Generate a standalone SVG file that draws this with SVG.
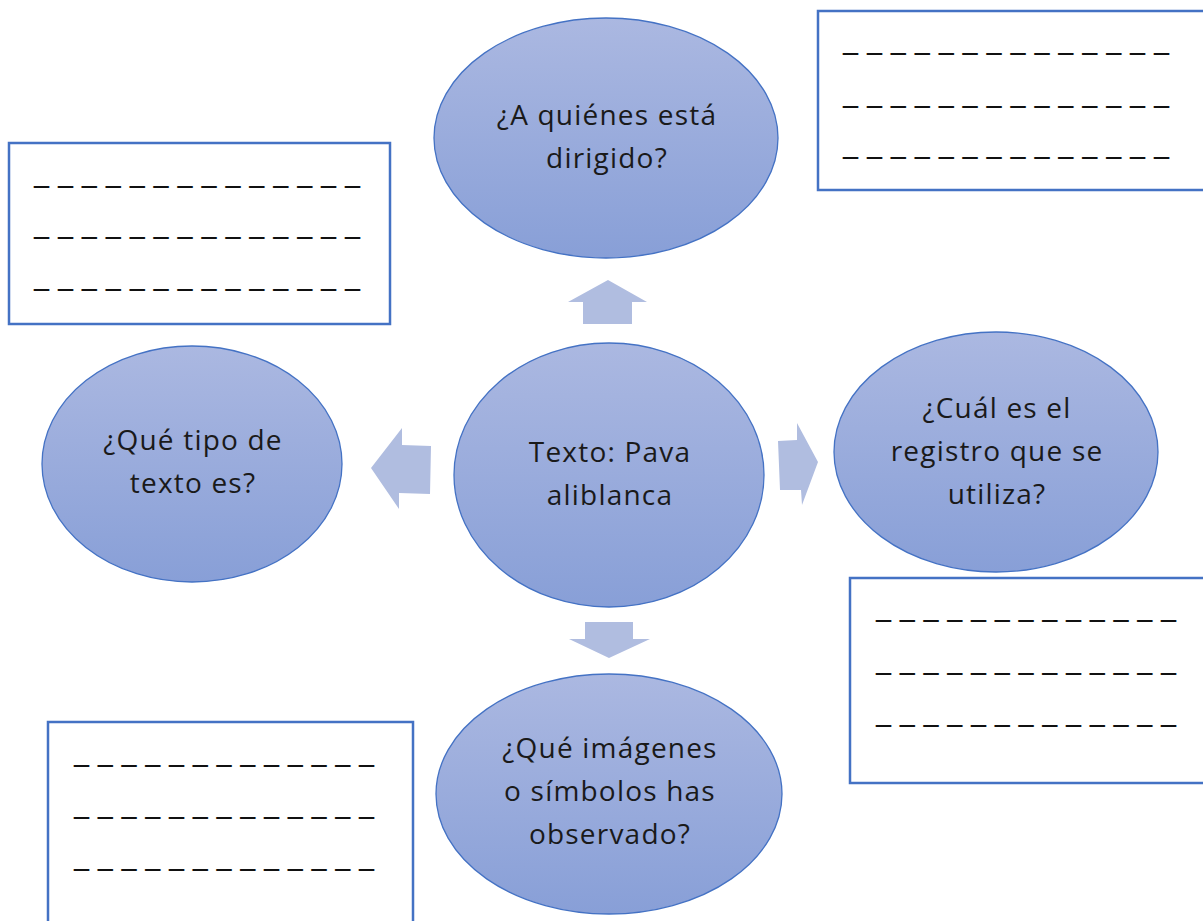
<svg xmlns="http://www.w3.org/2000/svg" width="1203" height="921" viewBox="0 0 1203 921">
<defs>
<linearGradient id="g" x1="0" y1="0" x2="0" y2="1">
<stop offset="0" stop-color="#abb8e1"/>
<stop offset="1" stop-color="#889fd7"/>
</linearGradient>
<style>
.node ellipse{fill:url(#g);stroke:#4472c4;stroke-width:1.3}
.node text{font-family:"Open Sans","Liberation Sans",sans-serif;font-size:28px;letter-spacing:1.2px;fill:#1a1a1a;text-anchor:middle}
.box rect{fill:#fff;stroke:#4472c4;stroke-width:2.5}
.box text{font-family:"DejaVu Sans","Liberation Sans",sans-serif;font-size:30px;fill:#111}
.arr{fill:#b0bde0}
</style>
</defs>
<rect width="1203" height="921" fill="#fff"/>
<g id="connectors">
<polygon class="arr" points="608,280 647,302 632,302 632,324 583,324 583,302 568,302"/>
<polygon class="arr" points="371,468 402,428 402,445 431,446 430,494 399,493 399,509"/>
<polygon class="arr" points="778,441 797,440 797,423 818,462 802,505 801,490 780,490"/>
<polygon class="arr" points="585,622 633,622 633,639 650,639 609,658 569,639 585,639"/>
</g>
<g id="node-top" class="node">
<ellipse cx="606" cy="138" rx="172" ry="120"/>
<text x="607" y="125">¿A quiénes está</text>
<text x="607" y="168">dirigido?</text>
</g>
<g id="node-left" class="node">
<ellipse cx="192" cy="464" rx="150" ry="118"/>
<text x="193" y="450">¿Qué tipo de</text>
<text x="193" y="493">texto es?</text>
</g>
<g id="node-center" class="node">
<ellipse cx="609" cy="475" rx="155" ry="132"/>
<text x="610" y="462">Texto: Pava</text>
<text x="610" y="505">aliblanca</text>
</g>
<g id="node-right" class="node">
<ellipse cx="996" cy="452" rx="162" ry="120"/>
<text x="997" y="418">¿Cuál es el</text>
<text x="997" y="461">registro que se</text>
<text x="997" y="504">utiliza?</text>
</g>
<g id="node-bottom" class="node">
<ellipse cx="609" cy="794" rx="173" ry="120"/>
<text x="610" y="758">¿Qué imágenes</text>
<text x="610" y="801">o símbolos has</text>
<text x="610" y="844">observado?</text>
</g>
<g id="box-top-left" class="box">
<rect x="9" y="143" width="381" height="181"/>
<text x="34" y="181" textLength="326">_ _ _ _ _ _ _ _ _ _ _ _ _ _</text>
<text x="34" y="232" textLength="326">_ _ _ _ _ _ _ _ _ _ _ _ _ _</text>
<text x="34" y="284" textLength="326">_ _ _ _ _ _ _ _ _ _ _ _ _ _</text>
</g>
<g id="box-top-right" class="box">
<rect x="818" y="11" width="390" height="179"/>
<text x="843" y="48" textLength="326">_ _ _ _ _ _ _ _ _ _ _ _ _ _</text>
<text x="843" y="101" textLength="326">_ _ _ _ _ _ _ _ _ _ _ _ _ _</text>
<text x="843" y="152" textLength="326">_ _ _ _ _ _ _ _ _ _ _ _ _ _</text>
</g>
<g id="box-bottom-right" class="box">
<rect x="850" y="578" width="360" height="205"/>
<text x="876" y="615" textLength="300">_ _ _ _ _ _ _ _ _ _ _ _ _</text>
<text x="876" y="668" textLength="300">_ _ _ _ _ _ _ _ _ _ _ _ _</text>
<text x="876" y="720" textLength="300">_ _ _ _ _ _ _ _ _ _ _ _ _</text>
</g>
<g id="box-bottom-left" class="box">
<rect x="48" y="722" width="365" height="210"/>
<text x="74" y="760" textLength="300">_ _ _ _ _ _ _ _ _ _ _ _ _</text>
<text x="74" y="812" textLength="300">_ _ _ _ _ _ _ _ _ _ _ _ _</text>
<text x="74" y="864" textLength="300">_ _ _ _ _ _ _ _ _ _ _ _ _</text>
</g>
</svg>
